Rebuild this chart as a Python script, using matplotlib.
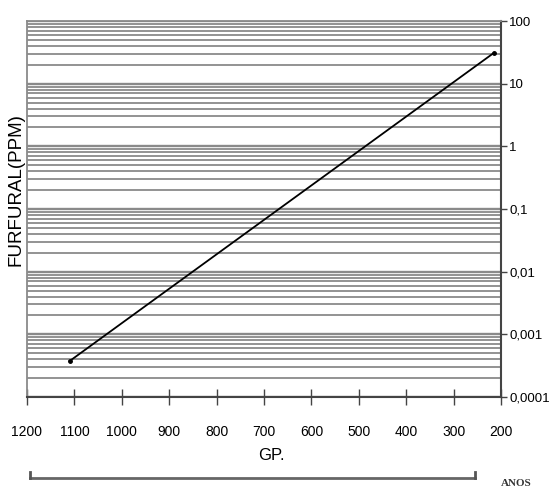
import matplotlib
matplotlib.use("Agg")
import matplotlib.pyplot as plt
from matplotlib.lines import Line2D
import numpy as np

# Data
gp_values = [1110, 215]
furfural_ppm = [0.000375, 31]
x_ticks = [1200, 1100, 1000, 900, 800, 700, 600, 500, 400, 300, 200]
y_ticks = [0.0001, 0.001, 0.01, 0.1, 1, 10, 100]
y_tick_labels = ["0,0001", "0,001", "0,01", "0,1", "1", "10", "100"]

W, H = 549, 493
fig = plt.figure(figsize=(W / 100, H / 100), dpi=100)
ax = fig.add_axes([27 / W, 1 - 397 / H, (501 - 27) / W, (397 - 21) / H])

sans = ["Liberation Sans", "DejaVu Sans"]

ax.set_yscale("log")
ax.set_xlim(1200, 200)
ax.set_ylim(0.0001, 100)

# horizontal gridlines at all major and minor log positions
for e in range(-4, 2):
    for m in range(1, 10):
        v = m * 10.0 ** e
        ax.axhline(v, color="#8a8a8a", lw=1.3 if m > 1 else 1.7, zorder=1)
ax.axhline(100, color="#8a8a8a", lw=1.7, zorder=1)

ax.plot(gp_values, furfural_ppm, color="black", lw=1.3, marker="o",
        markersize=2.5, zorder=3)

ax.yaxis.tick_right()
ax.set_yticks(y_ticks)
ax.set_yticklabels(y_tick_labels, fontfamily=sans, fontsize=9.5)
ax.yaxis.set_minor_locator(matplotlib.ticker.NullLocator())
ax.tick_params(axis="y", which="major", direction="out", length=4, width=1,
               color="#444444", pad=2)

ax.set_xticks(x_ticks)
ax.set_xticklabels([str(t) for t in x_ticks], fontfamily=sans, fontsize=10)
ax.tick_params(axis="x", direction="inout", length=12, width=1,
               color="#444444", pad=14)

for s in ["left", "top"]:
    ax.spines[s].set_color("#8a8a8a")
    ax.spines[s].set_linewidth(1.3)
for s in ["right", "bottom"]:
    ax.spines[s].set_color("#444444")
    ax.spines[s].set_linewidth(1.5)

fig.text(16 / W, 1 - 190 / H, "FURFURAL(PPM)", rotation=90, ha="center",
         va="center", fontsize=13.5, fontfamily=sans)
fig.text(271 / W, 1 - 455 / H, "GP.", ha="center", va="center", fontsize=12,
         fontfamily=sans)

# bracket
yb = 1 - 478 / H
fig.add_artist(Line2D([30 / W, 475 / W], [yb, yb], color="#666666", lw=2,
                      transform=fig.transFigure))
for xb in (30, 475):
    fig.add_artist(Line2D([xb / W, xb / W], [yb, 1 - 472 / H], color="#555555",
                          lw=2, transform=fig.transFigure))
fig.text(516 / W, 1 - 484 / H, "ANOS", ha="center", va="center", fontsize=8,
         fontfamily=["Liberation Serif", "DejaVu Serif"], fontweight="bold",
         color="#333333")

fig.savefig("out.png", dpi=100)
